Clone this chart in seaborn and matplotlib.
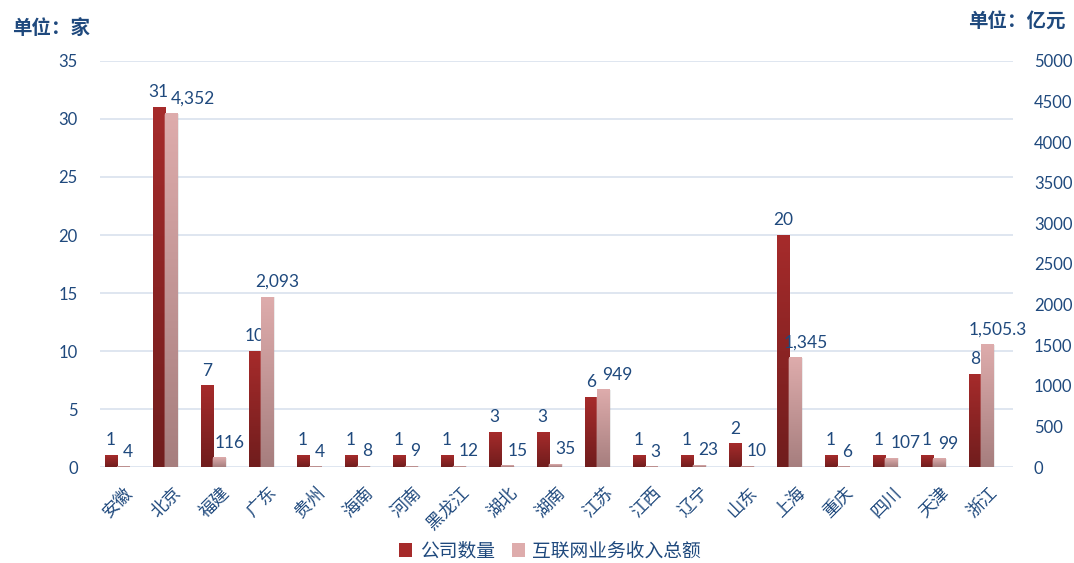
import matplotlib
matplotlib.use("Agg")
import matplotlib.pyplot as plt
from matplotlib.colors import LinearSegmentedColormap
from matplotlib.patches import Patch
from matplotlib.transforms import ScaledTranslation
import seaborn as sns
import numpy as np

provinces = ["安徽", "北京", "福建", "广东", "贵州", "海南", "河南", "黑龙江", "湖北", "湖南",
             "江苏", "江西", "辽宁", "山东", "上海", "重庆", "四川", "天津", "浙江"]
company_counts = [1, 31, 7, 10, 1, 1, 1, 1, 3, 3, 6, 1, 1, 2, 20, 1, 1, 1, 8]
revenue = [4, 4352, 116, 2093, 4, 8, 9, 12, 15, 35, 949, 3, 23, 10, 1345, 6, 107, 99, 1505.3]

series_names = ["公司数量", "互联网业务收入总额"]
left_ticks = [0, 5, 10, 15, 20, 25, 30, 35]
right_ticks = [0, 500, 1000, 1500, 2000, 2500, 3000, 3500, 4000, 4500, 5000]

TEXT = "#1F497D"
RED_TOP, RED_BOT = "#A62B2B", "#701D1D"
PINK_TOP, PINK_BOT = "#DEACAC", "#A67E7E"

sns.set_theme(style="white")
plt.rcParams["font.family"] = ["Lato", "Noto Sans CJK SC", "DejaVu Sans"]
CJK = ["Noto Sans CJK SC", "DejaVu Sans"]

fig = plt.figure(figsize=(10.74, 5.63), dpi=100)
ax = fig.add_axes([100 / 1074, 96 / 563, 913 / 1074, 406 / 563])
ax2 = ax.twinx()

BW = 0.26
sns.barplot(x=provinces, y=company_counts, ax=ax, width=BW, color=RED_TOP, saturation=1)
sns.barplot(x=provinces, y=revenue, ax=ax2, width=BW, color=PINK_TOP, saturation=1)


def gradient_bars(axis, shift, top, bottom):
    cmap = LinearSegmentedColormap.from_list("g", [top, bottom])
    grad = np.linspace(0, 1, 256).reshape(-1, 1)
    for p in axis.patches:
        p.set_x(p.get_x() + shift)
        x0, y0, w, h = p.get_x(), p.get_y(), p.get_width(), p.get_height()
        if h <= 0:
            continue
        # soft shadow
        axis.add_patch(plt.Rectangle((x0 + 0.03, y0), w, h, color="#000000", alpha=0.08,
                                     zorder=1.5, lw=0))
        axis.imshow(grad, extent=[x0, x0 + w, y0, y0 + h], origin="upper", cmap=cmap,
                    aspect="auto", zorder=2, interpolation="bilinear")
        p.set_facecolor("none")


gradient_bars(ax, -BW / 2, RED_TOP, RED_BOT)
gradient_bars(ax2, BW / 2, PINK_TOP, PINK_BOT)

ax.set_xlim(-0.354, 18.667)
ax.set_ylim(0, 35)
ax2.set_ylim(0, 5000)
ax.set_yticks(left_ticks)
ax2.set_yticks(right_ticks)

ax.grid(axis="y", color="#D9E2EE", lw=1.2)
ax.set_axisbelow(True)
ax2.grid(False)
for a in (ax, ax2):
    for s in a.spines.values():
        s.set_visible(False)
    a.set_xlabel("")
    a.set_ylabel("")
ax2.patch.set_visible(False)

ax.tick_params(axis="y", length=0, pad=16, labelsize=12, labelcolor=TEXT)
ax2.tick_params(axis="y", length=0, pad=15, labelsize=12, labelcolor=TEXT)
ax.tick_params(axis="x", length=0, pad=12)
ax2.tick_params(axis="x", length=0)
ax.set_xticks(range(len(provinces)))
ax.set_xticklabels(provinces, rotation=45, ha="right", va="top", rotation_mode="anchor",
                   fontsize=12.5, color=TEXT, fontweight="light", family=CJK)
shift = ScaledTranslation(7 / 100, 0, fig.dpi_scale_trans)
for lbl in ax.get_xticklabels():
    lbl.set_transform(lbl.get_transform() + shift)

for i, v in enumerate(company_counts):
    ax.annotate(f"{v:,g}", (i - BW / 2, v), xytext=(0, 5), textcoords="offset points",
                ha="center", va="bottom", fontsize=12.5, color=TEXT)
for i, v in enumerate(revenue):
    # when both bars end at nearly the same height, keep the label clear of the count label
    close = abs(company_counts[i] / 35 - v / 5000) * 406 < 25
    if close:
        ax2.annotate(f"{v:,g}", (i, v), xytext=(4, 5), textcoords="offset points",
                     ha="left", va="bottom", fontsize=12.5, color=TEXT)
    else:
        ax2.annotate(f"{v:,g}", (i + BW / 2, v), xytext=(7.5, 5), textcoords="offset points",
                     ha="center", va="bottom", fontsize=12.5, color=TEXT)

fig.text(12 / 1074, 1 - 28 / 563, "单位：家", fontsize=14, fontweight="bold", color=TEXT,
         va="center", ha="left", family=CJK)
fig.text(1066 / 1074, 1 - 22 / 563, "单位：亿元", fontsize=14, fontweight="bold", color=TEXT,
         va="center", ha="right", family=CJK)

handles = [Patch(facecolor=RED_TOP, edgecolor="none"), Patch(facecolor=PINK_TOP, edgecolor="none")]
fig.legend(handles, series_names, loc="center", bbox_to_anchor=(550 / 1074, 1 - 551 / 563),
           ncol=2, frameon=False, prop={"family": CJK, "size": 13.5, "weight": "light"},
           handlelength=0.7, handleheight=0.7, handletextpad=0.4, columnspacing=0.9,
           labelcolor=TEXT)

fig.savefig("out.png", dpi=100)
